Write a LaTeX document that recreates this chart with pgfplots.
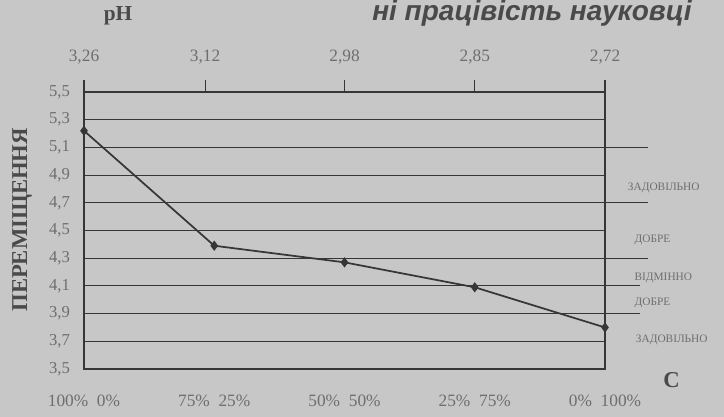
\documentclass[border=0pt]{standalone}
\usepackage{fontspec}
\setmainfont{Liberation Serif}
\newfontfamily\headfont{Liberation Sans}
\usepackage{pgfplots}
\pgfplotsset{compat=1.18}
\definecolor{bg}{HTML}{C6C7C6}
\definecolor{linec}{HTML}{363636}
\definecolor{labc}{HTML}{6E6E6E}
\definecolor{txtc}{HTML}{4A4A4A}
\begin{document}
\begin{tikzpicture}
\useasboundingbox (0,0) rectangle (543pt,312.75pt);
\fill[bg] (0,0) rectangle (543pt,312.75pt);
% header fragment of the page
\node[anchor=base west, inner sep=0pt, text=txtc, font=\headfont\bfseries\itshape\fontsize{21}{23}\selectfont] at (279pt,297.5pt) {ні працівість науковці};
% pH label
\node[text=txtc, font=\bfseries\fontsize{16}{18}\selectfont] at (88.5pt,300.75pt) {pH};
% main axis
\begin{axis}[
  at={(63pt,36pt)}, anchor=south west, scale only axis,
  width=390.75pt, height=207.75pt,
  xmin=0, xmax=4, ymin=3.5, ymax=5.5,
  clip=false,
  axis line style={line width=1.4pt, color=linec},
  xtick={0,1,2,3,4},
  xticklabels={100\%~~0\%, 75\%~~25\%, 50\%~~50\%, 25\%~~75\%, 0\%~~100\%},
  x tick style={draw=none},
  xticklabel style={text=labc, font=\fontsize{13}{15}\selectfont, yshift=-16pt},
  ytick={3.5,3.7,3.9,4.1,4.3,4.5,4.7,4.9,5.1,5.3,5.5},
  y tick style={draw=none},
  yticklabel style={text=labc, font=\fontsize{12.5}{14}\selectfont, xshift=-7pt,
    /pgf/number format/.cd, fixed, fixed zerofill, precision=1, use comma, assume math mode=true},
  ymajorgrids,
  grid style={line width=0.8pt, color=linec},
  ylabel={ПЕРЕМІЩЕННЯ},
  ylabel style={text=txtc, font=\bfseries\fontsize{17}{19}\selectfont, yshift=6pt, xshift=8pt},
]
\addplot[color=linec, line width=1.3pt, mark=diamond*, mark size=2.8pt, mark options={fill=linec}]
  coordinates {(0,5.22) (1,4.39) (2,4.27) (3,4.09) (4,3.80)};
% extended grid lines on the right
\draw[line width=0.8pt, color=linec] (axis cs:4,5.1) -- ++(32pt,0pt);
\draw[line width=0.8pt, color=linec] (axis cs:4,4.7) -- ++(32pt,0pt);
\draw[line width=0.8pt, color=linec] (axis cs:4,4.3) -- ++(32pt,0pt);
\draw[line width=0.8pt, color=linec] (axis cs:4,4.1) -- ++(26pt,0pt);
\draw[line width=0.8pt, color=linec] (axis cs:4,3.9) -- ++(26pt,0pt);
% rating labels
\begin{scope}[every node/.style={anchor=west, text=labc, font=\fontsize{8.5}{10}\selectfont, inner sep=0pt}]
\node at ([xshift=17pt]axis cs:4,4.81) {ЗАДОВІЛЬНО};
\node at ([xshift=22pt]axis cs:4,4.43) {ДОБРЕ};
\node at ([xshift=22pt]axis cs:4,4.16) {ВІДМІННО};
\node at ([xshift=22pt]axis cs:4,3.98) {ДОБРЕ};
\node at ([xshift=23pt]axis cs:4,3.71) {ЗАДОВІЛЬНО};
\end{scope}
\node[text=txtc, font=\bfseries\fontsize{17}{19}\selectfont] at ([xshift=50pt,yshift=-8pt]axis cs:4,3.5) {C};
\end{axis}
% top pH axis
\begin{axis}[
  at={(63pt,36pt)}, anchor=south west, scale only axis,
  width=390.75pt, height=207.75pt,
  xmin=0, xmax=4, ymin=3.5, ymax=5.5,
  axis x line*=top, axis y line=none,
  axis line style={-, line width=1.4pt, color=linec},
  xtick={0,0.93,2,3,4},
  xticklabels={{3,26},{3,12},{2,98},{2,85},{2,72}},
  tick align=outside, major tick length=9pt,
  x tick style={line width=0.9pt, color=linec},
  xticklabel style={text=labc, font=\fontsize{13}{15}\selectfont, yshift=8pt},
]
\addplot[draw=none] coordinates {(0,4)};
\end{axis}
\end{tikzpicture}
\end{document}
